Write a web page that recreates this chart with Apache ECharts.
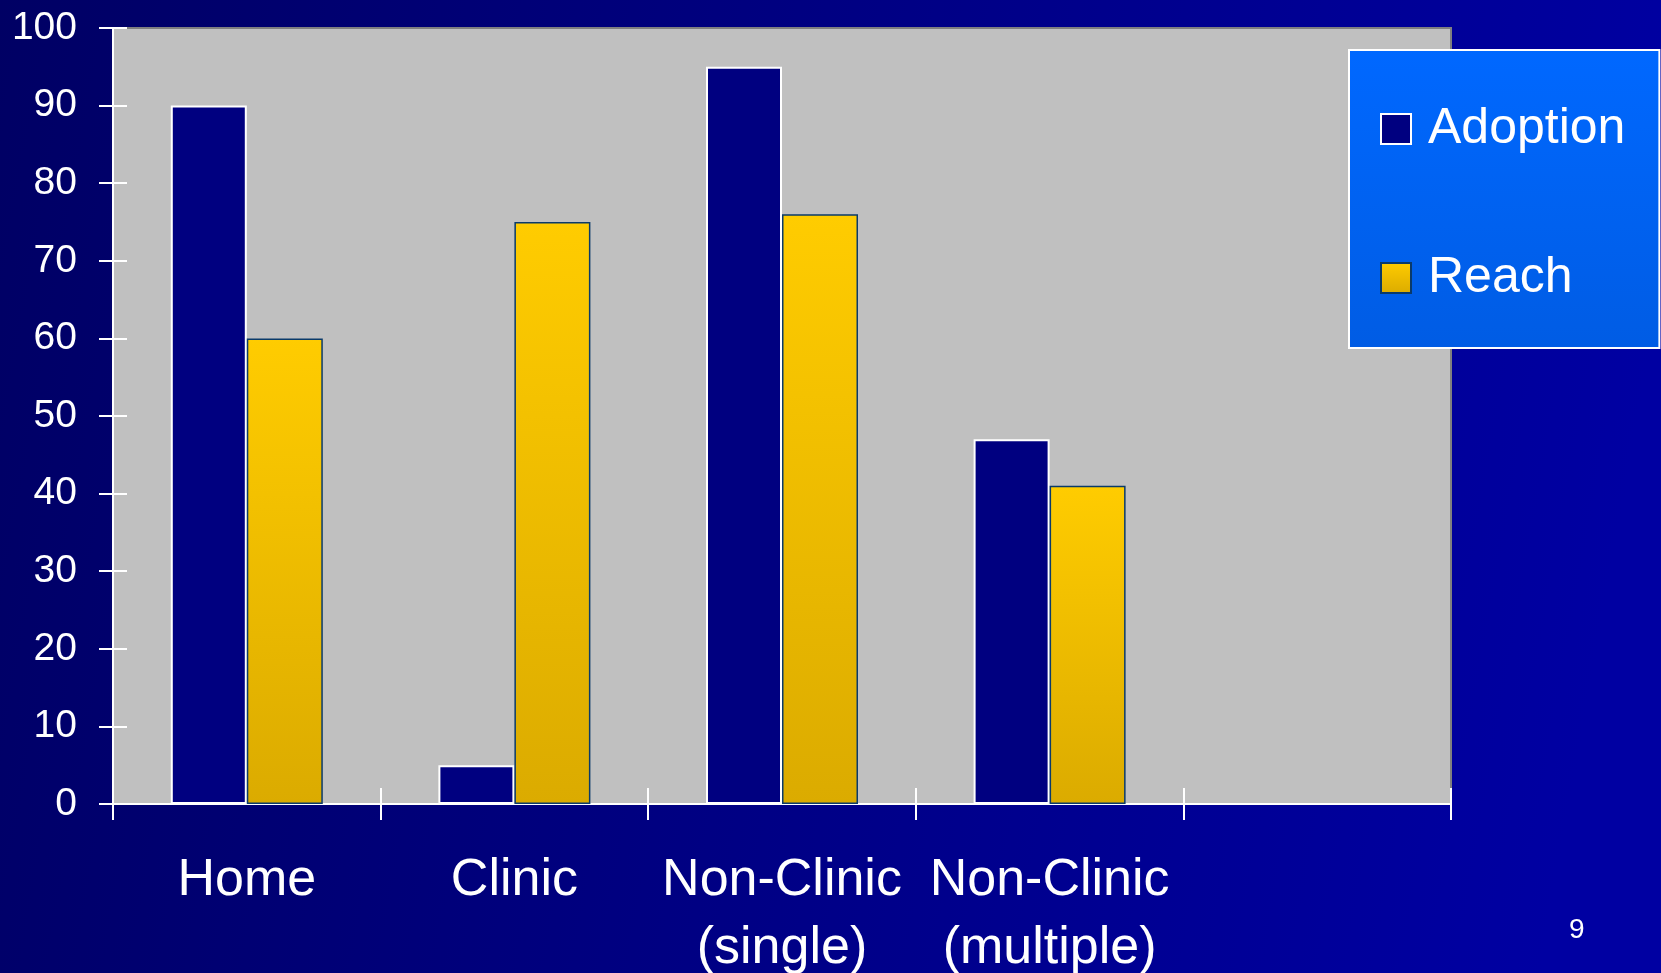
<!DOCTYPE html>
<html>
<head>
<meta charset="utf-8">
<script src="https://cdn.jsdelivr.net/npm/echarts@6/dist/echarts.min.js"></script>
<style>
html,body{margin:0;padding:0;background:#000080;}
#chart{width:1661px;height:973px;}
</style>
</head>
<body>
<div id="chart"></div>
<script>
const categories = ['Home', 'Clinic', 'Non-Clinic\n(single)', 'Non-Clinic\n(multiple)', ''];
const adoption = [90, 5, 95, 47, null];
const reach = [60, 75, 76, 41, null];
const yTicks = {min: 0, max: 100, interval: 10};
const pageNumber = '9';

const FONT = '"Liberation Sans", Arial, Helvetica, sans-serif';
const chart = echarts.init(document.getElementById('chart'), null, {renderer: 'canvas'});

const option = {
  backgroundColor: {
    type: 'linear', x: 0, y: 0, x2: 1, y2: 0.3,
    colorStops: [{offset: 0, color: '#000064'}, {offset: 1, color: '#0000A2'}]
  },
  animation: false,
  title: {
    text: pageNumber,
    left: 1564, top: 911,
    textStyle: {color: '#ffffff', fontSize: 28, fontWeight: 'normal', fontFamily: FONT}
  },
  grid: {
    left: 113, top: 28, right: 210, bottom: 169,
    containLabel: false,
    outerBoundsMode: 'none',
    show: true, backgroundColor: '#C0C0C0', borderColor: '#808080', borderWidth: 2
  },
  legend: {
    orient: 'vertical',
    left: 1349, top: 50,
    padding: [54, 34, 45, 31],
    itemWidth: 30, itemHeight: 30, itemGap: 99,
    icon: 'rect',
    borderColor: '#ffffff', borderWidth: 2,
    backgroundColor: {
      type: 'linear', x: 0, y: 0, x2: 0, y2: 1,
      colorStops: [{offset: 0, color: '#0068FF'}, {offset: 1, color: '#005CE4'}]
    },
    textStyle: {color: '#ffffff', fontSize: 50, fontFamily: FONT, padding: [0, 0, 0, 12]},
    data: ['Adoption', 'Reach']
  },
  xAxis: [{
    type: 'category',
    data: categories,
    boundaryGap: true,
    axisLine: {show: true, lineStyle: {color: '#ffffff', width: 2}},
    axisTick: {show: true, length: 16, lineStyle: {color: '#ffffff', width: 2}},
    axisLabel: {color: '#ffffff', fontSize: 52, fontFamily: FONT, margin: 43, lineHeight: 68, interval: 0},
    splitLine: {show: false}
  }, {
    type: 'category',
    data: categories,
    position: 'bottom',
    boundaryGap: true,
    axisLine: {show: false},
    axisTick: {show: true, inside: true, length: 16, lineStyle: {color: '#ffffff', width: 2}},
    axisLabel: {show: false},
    splitLine: {show: false}
  }],
  yAxis: [{
    type: 'value',
    min: yTicks.min, max: yTicks.max, interval: yTicks.interval,
    axisLine: {show: true, lineStyle: {color: '#ffffff', width: 2}},
    axisTick: {show: true, length: 14, lineStyle: {color: '#ffffff', width: 2}},
    axisLabel: {color: '#ffffff', fontSize: 39, fontFamily: FONT, margin: 36},
    splitLine: {show: false}
  }, {
    type: 'value',
    position: 'left',
    min: yTicks.min, max: yTicks.max, interval: yTicks.interval,
    axisLine: {show: false},
    axisTick: {show: true, inside: true, length: 14, lineStyle: {color: '#ffffff', width: 2}},
    axisLabel: {show: false},
    splitLine: {show: false}
  }],
  series: [{
    name: 'Adoption',
    type: 'bar',
    data: adoption,
    barWidth: 76,
    barGap: '0%',
    itemStyle: {color: '#000080', borderColor: '#ffffff', borderWidth: 2}
  }, {
    name: 'Reach',
    type: 'bar',
    data: reach,
    barWidth: 76,
    barGap: '0%',
    itemStyle: {
      color: {
        type: 'linear', x: 0, y: 0, x2: 0, y2: 1,
        colorStops: [{offset: 0, color: '#FFCC00'}, {offset: 1, color: '#DBAB00'}]
      },
      borderColor: '#0A3A6A', borderWidth: 1.5
    }
  }]
};
chart.setOption(option);
</script>
</body>
</html>
